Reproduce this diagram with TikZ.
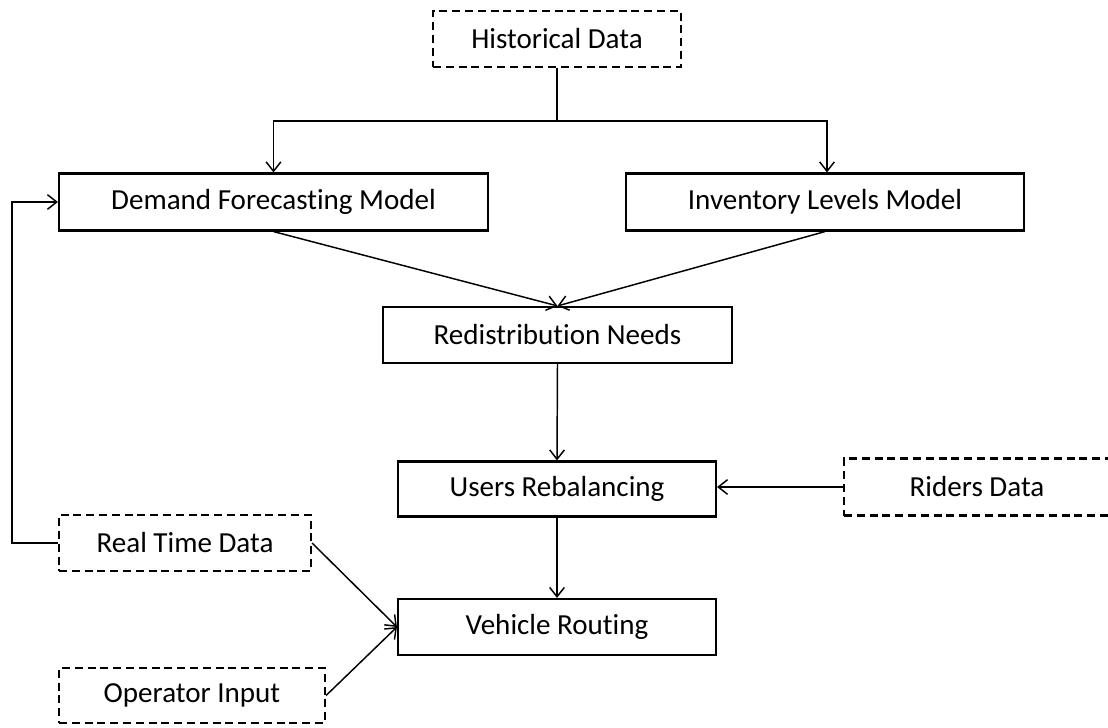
\documentclass[tikz,border=0pt]{standalone}
\usepackage{fontspec}
\setmainfont{Carlito}[Ligatures={NoCommon}]
\usetikzlibrary{arrows.meta}
\begin{document}
\begin{tikzpicture}[x=0.75pt,y=-0.75pt,
  box/.style={draw, line width=1.6pt, inner sep=0pt, font=\fontsize{21.8}{26}\selectfont, align=center},
  dbox/.style={box, dash pattern=on 6pt off 3.6pt},
  conn/.style={line width=1.1pt},
  arr/.style={conn, -{Straight Barb[length=7pt,width=11pt,line width=1.1pt]}}]
\useasboundingbox (0,0) rectangle (1108,728);
\node[dbox, minimum width=248*0.75pt, minimum height=56*0.75pt] (hist) at (557,39) {Historical Data};
\node[box, minimum width=429*0.75pt, minimum height=57*0.75pt] (dem) at (273.5,202) {Demand Forecasting Model};
\node[box, minimum width=398*0.75pt, minimum height=57*0.75pt] (inv) at (825,202) {Inventory Levels Model};
\node[box, minimum width=349*0.75pt, minimum height=56*0.75pt] (red) at (557.5,335) {Redistribution Needs};
\node[box, minimum width=318*0.75pt, minimum height=55*0.75pt] (usr) at (557,489) {Users Rebalancing};
\node[dbox, minimum width=266*0.75pt, minimum height=57*0.75pt] (rid) at (977,487) {Riders Data};
\node[dbox, minimum width=252*0.75pt, minimum height=56*0.75pt] (rtd) at (185,543) {Real Time Data};
\node[box, minimum width=318*0.75pt, minimum height=56*0.75pt] (veh) at (557,627) {Vehicle Routing};
\node[dbox, minimum width=266*0.75pt, minimum height=55*0.75pt] (opi) at (192,695.5) {Operator Input};
\coordinate (split) at (557,121);
\coordinate (loop) at (12,202);
\draw[conn] (hist.south) -- (split);
\draw[arr] (split) -| (dem.north);
\draw[arr] (split) -| ([xshift=1.5pt]inv.north);
\draw[arr] (dem.south) -- (red.north);
\draw[arr] (inv.south) -- (red.north);
\draw[arr] (red.south) -- (usr.north);
\draw[arr] (rid.west) -- (rid.west -| usr.east);
\draw[arr] (usr.south) -- (veh.north);
\draw[arr] (rtd.east) -- (veh.west);
\draw[arr] (opi.east) -- (veh.west);
\draw[arr] (rtd.west) -| (loop) -- (dem.west);
\end{tikzpicture}
\end{document}
